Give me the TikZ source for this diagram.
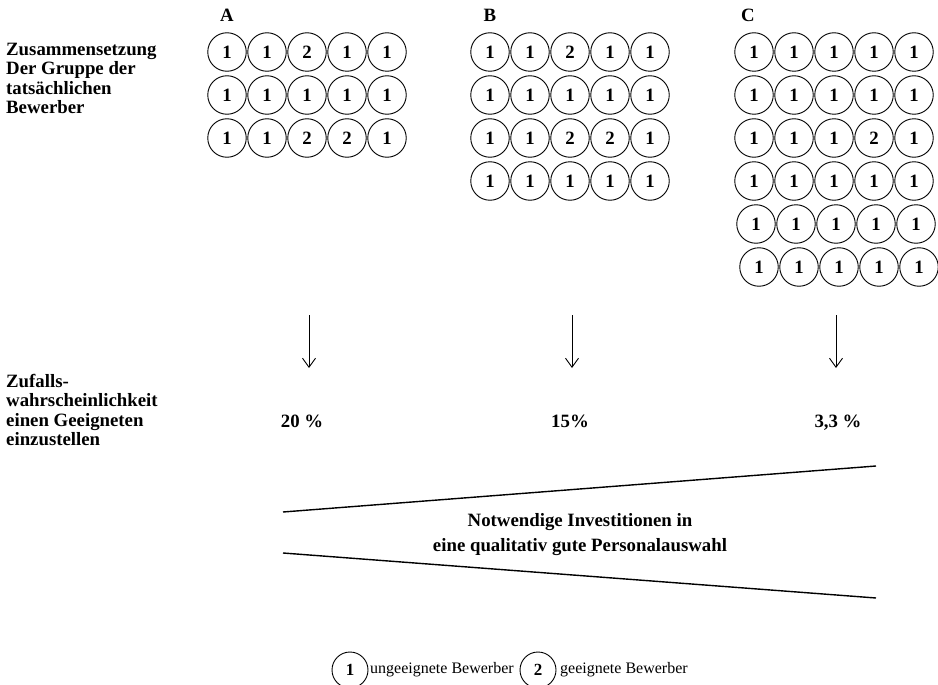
\documentclass[tikz,border=0pt]{standalone}
\usepackage{fontspec}
\setmainfont{Liberation Serif}
\usetikzlibrary{arrows.meta}
\begin{document}
\begin{tikzpicture}[x=1pt,y=-1pt,
  cell/.style={circle,draw,line width=0.9pt,minimum size=38.5pt,inner sep=0pt,
    font=\fontsize{18.8}{21}\selectfont\bfseries},
  legcell/.style={circle,draw,line width=0.9pt,minimum size=36pt,inner sep=0pt,
    font=\fontsize{17}{19}\selectfont\bfseries},
  lbl/.style={anchor=base west,inner sep=0pt,font=\fontsize{18.8}{21.7}\selectfont\bfseries},
  head/.style={anchor=base,inner sep=0pt,font=\fontsize{18.8}{21.7}\selectfont\bfseries},
  legtext/.style={anchor=base west,inner sep=0pt,font=\fontsize{16}{19}\selectfont},
  downarrow/.style={line width=0.9pt,-{Straight Barb[length=9pt,width=13pt,line width=0.9pt]}},
  wedge/.style={line width=1.4pt}]
\useasboundingbox (0,0) rectangle (938,685);

% left labels
\node[lbl] (z1) at (6,55.5) {Zusammensetzung};
\node[lbl] (z2) at (6,74.9) {Der Gruppe der};
\node[lbl] (z3) at (6,94.3) {tatsächlichen};
\node[lbl] (z4) at (6,113.7) {Bewerber};

\node[lbl] (w1) at (6,387) {Zufalls-};
\node[lbl] (w2) at (6,406.5) {wahrscheinlichkeit};
\node[lbl] (w3) at (6,426) {einen Geeigneten};
\node[lbl] (w4) at (6,445.5) {einzustellen};

% group headers
\node[head] (hA) at (227,22) {A};
\node[head] (hB) at (490,22) {B};
\node[head] (hC) at (748,22) {C};

% grid A
\foreach \r/\row in {1/{1,1,2,1,1},2/{1,1,1,1,1},3/{1,1,2,2,1}} {
  \foreach \v [count=\c] in \row {
    \node[cell] (A-\r-\c) at ({227+40*(\c-1)},{52+43*(\r-1)}) {\v};
  }
}
% grid B
\foreach \r/\row in {1/{1,1,2,1,1},2/{1,1,1,1,1},3/{1,1,2,2,1},4/{1,1,1,1,1}} {
  \foreach \v [count=\c] in \row {
    \node[cell] (B-\r-\c) at ({490+40*(\c-1)},{52+43*(\r-1)}) {\v};
  }
}
% grid C
\foreach \r/\row/\s in {1/{1,1,1,1,1}/0,2/{1,1,1,1,1}/0,3/{1,1,1,2,1}/0,4/{1,1,1,1,1}/0,5/{1,1,1,1,1}/2,6/{1,1,1,1,1}/5} {
  \foreach \v [count=\c] in \row {
    \node[cell] (C-\r-\c) at ({754+\s+40*(\c-1)},{52+43*(\r-1)}) {\v};
  }
}

% arrows
\coordinate (aA1) at (309,315); \coordinate (aA2) at (309,368);
\coordinate (aB1) at (572,315); \coordinate (aB2) at (572,368);
\coordinate (aC1) at (836,315); \coordinate (aC2) at (836,368);
\draw[downarrow] (aA1) -- (aA2);
\draw[downarrow] (aB1) -- (aB2);
\draw[downarrow] (aC1) -- (aC2);

% percentages
\node[head] (pA) at (302,427) {20 \%};
\node[head] (pB) at (570,427) {15\%};
\node[head] (pC) at (838,427) {3,3 \%};

% wedge
\coordinate (t1) at (283,512); \coordinate (t2) at (876,466);
\coordinate (b1) at (283,553); \coordinate (b2) at (876,598);
\draw[wedge] (t1) -- (t2);
\draw[wedge] (b1) -- (b2);
\node[head] (n1) at (580,526) {Notwendige Investitionen in};
\node[head] (n2) at (580,551) {eine qualitativ gute Personalauswahl};

% legend (circles cut by the lower edge)
\begin{scope}
\clip (0,0) rectangle (938,685);
\node[legcell] (L1) at (350,670) {1};
\node[legcell] (L2) at (538,670) {2};
\end{scope}
\node[legtext] (L1t) at (370,673) {ungeeignete Bewerber};
\node[legtext] (L2t) at (560,673) {geeignete Bewerber};
\end{tikzpicture}
\end{document}
